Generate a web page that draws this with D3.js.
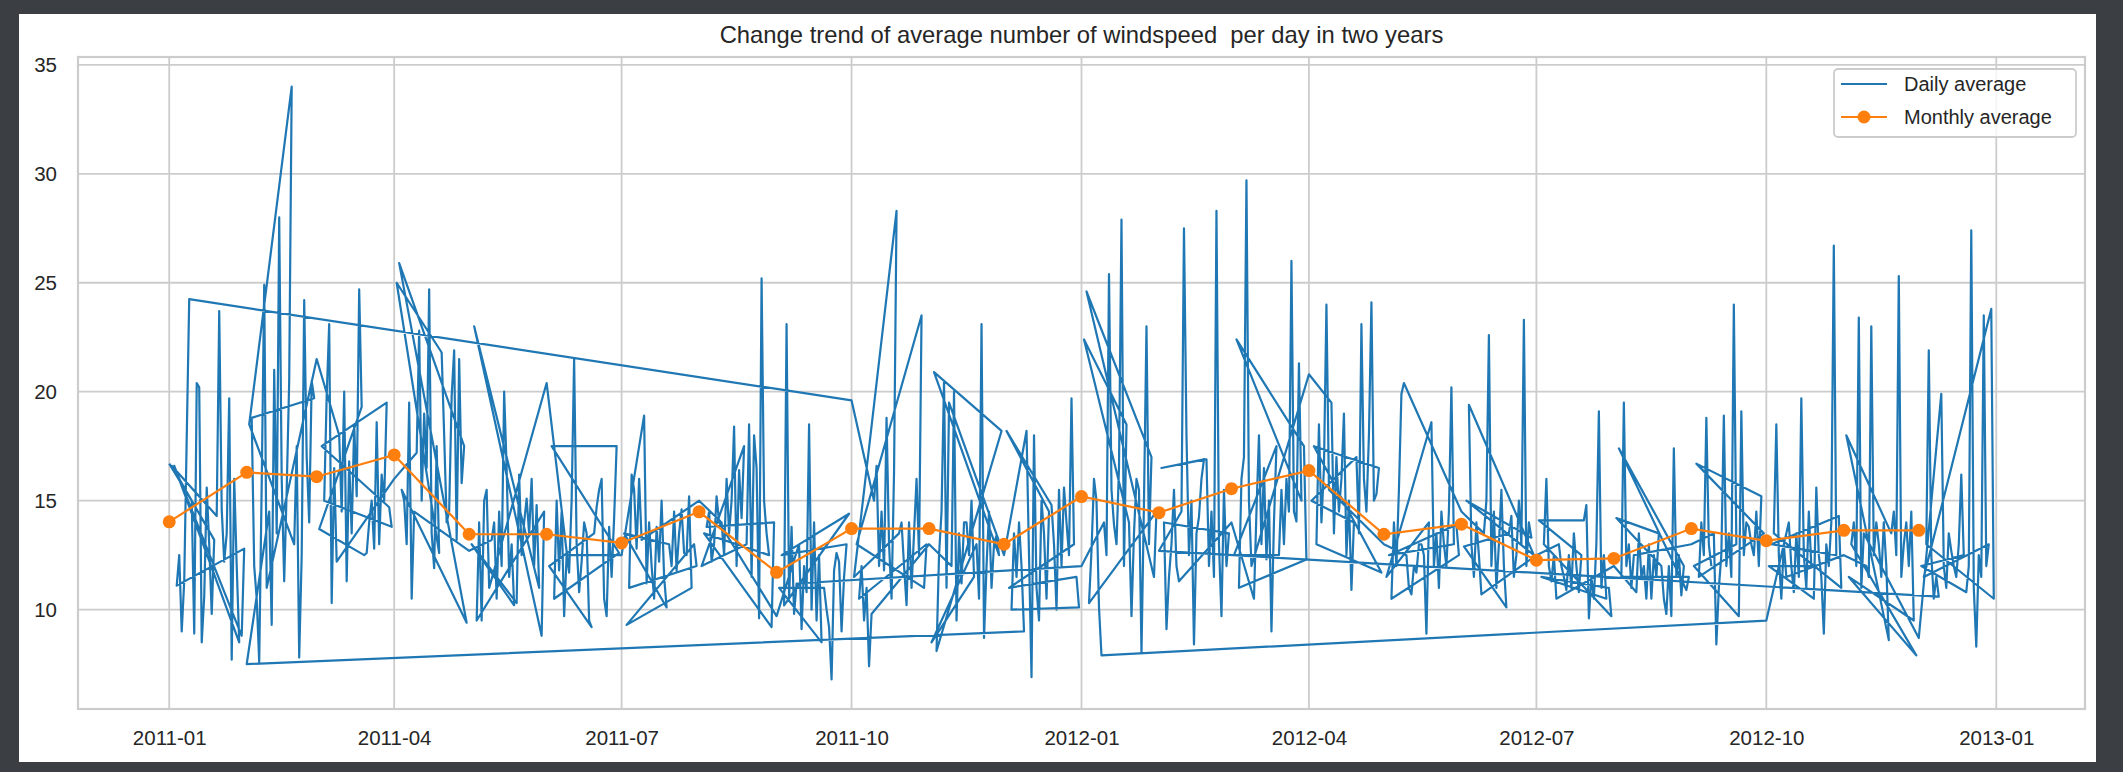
<!DOCTYPE html>
<html>
<head>
<meta charset="utf-8">
<script src="https://cdn.jsdelivr.net/npm/d3@7"></script>
<style>
body { margin: 0; background: #3b3e42; }
svg { display: block; }
text { font-family: "Liberation Sans", Arial, sans-serif; fill: #262626; }
</style>
</head>
<body>
<svg id="chart" width="2123" height="772"></svg>
<script>
// daily mean windspeed, one array per month (day 1..n)
const wind2011 = [
  [16.7,16.6,16.6,11.1,12.5,9.0,11.3,17.9,24.25,15.0,8.9,20.4,20.2,8.5,10.6,15.6,13.0,9.8,13.2,14.3,23.7,14.6,12.2,13.5,19.7,7.7,16.0,12.0,8.5,8.8,12.8],
  [7.5,18.5,18.8,12.0,10.5,7.6,15.8,24.9,11.0,14.5,9.3,21.0,13.5,28.0,16.0,11.3,15.5,20.5,34.0,13.0,17.5,7.8,12.5,24.2,17.0,14.0,20.5,19.7],
  [21.5,13.7,17.5,15.0,19.8,23.1,10.3,16.5,12.2,18.0,14.5,20.0,11.3,16.8,13.5,18.5,15.2,24.7,19.3,12.5,12.6,14.0,15.0,12.8,18.6,13.0,16.2,15.0,19.5,14.7,13.8],
  [16.0,25.0,25.9,15.5,15.0,13.0,19.5,10.5,14.5,17.2,22.8,15.0,19.0,16.5,24.7,13.5,11.9,17.5,12.6,21.8,18.0,14.0,14.5,19.8,21.9,13.2,21.5,15.8,17.5,9.4],
  [12.7,13.0,23.0,9.5,14.0,9.5,15.0,15.5,11.0,13.2,14.0,10.5,14.5,12.0,20.0,16.5,11.5,13.0,10.2,10.3,16.2,12.5,14.0,15.1,13.5,16.0,12.0,14.8,11.0,8.8,14.5],
  [20.4,12.0,17.5,10.5,15.0,11.8,14.5,9.7,12.5,11.7,15.0,21.5,13.0,10.8,12.2,14.0,13.5,9.5,9.2,13.5,14.7,15.5,16.0,10.5,9.7,13.8,11.5,14.2,17.5,12.6],
  [12.5,13.5,9.3,11.0,16.2,15.5,12.8,16.0,13.2,18.9,11.2,14.0,12.0,10.5,13.8,12.2,15.0,11.5,10.1,13.0,12.0,14.5,11.8,13.5,14.6,12.6,12.5,15.2,11.0,13.0,12.0],
  [15.0,12.0,13.5,13.8,14.5,12.2,13.0,15.2,14.0,14.0,12.5,16.0,13.5,15.0,18.4,12.0,16.4,14.2,17.5,13.0,18.5,11.5,18.0,16.5,9.6,25.2,15.0,13.5,12.5,9.2,14.0],
  [9.7,11.0,12.5,10.2,23.1,10.5,13.8,9.8,11.2,13.0,9.1,12.0,10.8,18.5,10.0,14.0,9.5,12.5,8.5,11.0,10.0,9.2,6.8,11.8,12.6,12.2,9.0,11.5,13.0,14.4],
  [19.6,11.5,13.0,10.5,12.0,9.5,11.0,7.4,9.8,15.0,16.6,12.0,14.5,11.8,18.8,13.0,10.5,16.3,28.3,13.5,14.0,12.0,10.2,14.0,11.0,13.5,16.0,12.5,23.5,11.0,13.0],
  [13.0,8.5,20.9,8.1,12.5,14.5,20.5,11.0,19.5,12.0,20.0,9.5,13.5,11.2,14.0,14.0,12.5,15.0,11.5,13.0,10.5,23.1,8.7,12.0,14.5,11.0,13.0,13.4,12.5,18.2],
  [12.5,18.2,11.0,10.0,13.5,11.5,14.0,12.0,9.0,18.2,12.5,6.9,18.0,11.0,9.5,15.0,13.5,10.5,14.5,14.8,13.0,10.0,15.5,12.0,15.6,14.0,12.5,19.7,13.0,11.5,10.1]
]

const wind2012 = [
  [12.0,22.4,24.6,10.3,12.7,16.0,15.0,10.1,7.9,14.0,12.5,25.4,15.5,13.9,13.0,16.5,27.9,12.0,18.5,14.0,9.7,13.5,16.0,15.5,8.0,15.0,23.0,13.0,17.0,11.5,14.5],
  [12.7,16.5,14.0,9.1,11.5,13.0,15.5,12.0,11.3,14.5,27.5,18.0,12.5,15.0,8.4,13.5,14.25,16.0,16.9,16.9,12.0,14.5,11.5,28.3,13.0,9.7,15.5,12.0,13.5],
  [14.0,12.5,22.4,11.0,16.0,17.0,29.7,15.0,12.0,10.5,14.5,18.0,13.0,16.5,12.3,15.0,9.0,14.0,17.5,12.5,15.5,13.0,16.0,14.5,26.0,14.5,14.05,21.3,15.0,17.5,12.3],
  [20.8,15.0,17.5,13.0,18.5,14.0,16.5,24.0,15.5,19.5,13.5,17.0,14.5,16.0,19.0,12.5,15.0,10.9,14.0,17.0,13.5,23.1,16.0,14.5,18.0,24.1,15.0,15.3,16.5,11.7],
  [13.0,11.5,12.5,10.5,14.0,12.0,15.5,19.9,20.4,12.5,11.0,10.7,12.0,11.7,13.0,13.0,12.5,8.9,14.0,18.6,12.0,13.5,11.0,14.5,13.0,12.0,14.5,20.2,13.0,13.9,12.5],
  [14.5,12.9,15.0,19.4,13.0,11.5,14.0,12.5,10.7,13.5,15.0,22.6,12.0,14.5,11.0,13.0,15.5,12.0,10.1,13.5,14.3,11.5,12.5,15.0,13.0,23.3,12.0,14.0,13.3,12.5],
  [12.5,14.1,11.5,13.0,16.0,12.0,11.3,12.5,10.5,13.0,12.0,11.5,10.9,12.5,11.0,13.5,12.0,10.8,12.5,14.1,14.8,9.6,11.5,10.5,13.0,19.1,11.0,12.5,10.5,11.0,9.7],
  [12.0,14.2,17.4,11.5,19.5,12.0,13.0,11.0,12.5,10.8,13.5,11.5,12.0,10.5,13.0,10.5,12.5,11.5,13.5,12.0,10.5,9.8,12.0,9.7,17.4,11.5,12.5,10.65,12.0,10.9,11.5],
  [13.0,12.0,16.7,11.5,14.0,12.5,18.8,13.0,12.0,13.5,8.4,11.0,12.5,18.9,12.0,13.5,11.5,24.0,13.0,9.7,19.1,12.5,14.0,13.8,13.0,12.5,14.5,12.0,15.2,13.5],
  [9.5,12.0,13.0,13.5,18.5,12.5,10.5,13.0,11.5,14.0,12.0,10.8,13.5,11.5,19.7,12.5,11.0,14.5,12.0,10.5,15.6,12.5,11.5,8.9,13.0,12.0,14.0,26.7,12.5,14.3,11.0],
  [12.5,18.0,11.5,13.0,14.0,12.0,23.4,11.0,13.5,12.0,11.5,23.0,12.5,14.0,13.0,11.5,14.0,12.0,8.6,13.5,14.5,12.5,25.3,11.5,13.0,14.0,12.0,14.5,9.5,7.9],
  [8.7,12.0,11.5,13.0,21.9,12.5,10.5,11.5,10.6,19.9,12.0,11.0,13.5,12.7,12.0,11.5,13.0,16.2,12.5,10.8,12.0,27.4,11.0,8.3,12.5,11.5,23.5,12.0,13.0,23.8,10.5]
]

const years = [2011, 2012]

const monthlyAvg = [14.03,16.30,16.10,17.10,13.46,13.46,13.06,14.49,11.71,13.72,13.72,13.00,
                    15.19,14.45,15.55,16.38,13.46,13.92,12.27,12.35,13.72,13.16,13.64,13.64]

const xTickLabels = ['2011-01','2011-04','2011-07','2011-10','2012-01','2012-04','2012-07','2012-10','2013-01']
const yTicks = [10, 15, 20, 25, 30, 35]

const titleText = 'Change trend of average number of windspeed  per day in two years'
const legendLabels = ['Daily average', 'Monthly average']

const plotL = 78, plotR = 2085, plotT = 57, plotB = 709
const blue = '#1f77b4', orange = '#ff7f0e', gridColor = '#cccccc'
const fontFam = '"Liberation Sans", Arial, sans-serif'

const svg = d3.select('#chart')

svg.append('rect')
    .attr('x', 19).attr('y', 14)
    .attr('width', 2077).attr('height', 748)
    .attr('fill', '#ffffff')

// days grouped by their "yyyy/m/d" string, so they come out in string order
const rows = []
years.forEach(function(yr, yi){
    const months = yi === 0 ? wind2011 : wind2012
    months.forEach(function(vals, mi){
        vals.forEach(function(v, di){
            rows.push({key: yr + '/' + (mi + 1) + '/' + (di + 1), date: new Date(yr, mi, di + 1), value: v})
        })
    })
})
rows.sort(function(a, b){ return d3.ascending(a.key, b.key) })

const monthly = monthlyAvg.map(function(v, i){
    return {date: new Date(years[0] + Math.floor(i / 12), i % 12, 1), value: v}
})

// matplotlib style 5% margins
const dExt = d3.extent(rows, d => d.date)
const dPad = (dExt[1] - dExt[0]) * 0.05
const x = d3.scaleTime([new Date(+dExt[0] - dPad), new Date(+dExt[1] + dPad)], [plotL, plotR])

const vExt = d3.extent(rows, d => d.value)
const vPad = (vExt[1] - vExt[0]) * 0.05
const y = d3.scaleLinear([vExt[0] - vPad, vExt[1] + vPad], [plotB, plotT])

const xTicks = xTickLabels.map(d3.timeParse('%Y-%m'))

// grid
svg.append('g').selectAll('line')
    .data(xTicks)
    .join('line')
    .attr('x1', d => x(d)).attr('x2', d => x(d))
    .attr('y1', plotT).attr('y2', plotB)
    .attr('stroke', gridColor).attr('stroke-width', 1.8)

svg.append('g').selectAll('line')
    .data(yTicks)
    .join('line')
    .attr('x1', plotL).attr('x2', plotR)
    .attr('y1', d => y(d)).attr('y2', d => y(d))
    .attr('stroke', gridColor).attr('stroke-width', 1.8)

// spines
svg.append('rect')
    .attr('x', plotL).attr('y', plotT)
    .attr('width', plotR - plotL).attr('height', plotB - plotT)
    .attr('fill', 'none')
    .attr('stroke', gridColor).attr('stroke-width', 2.2)

// axes
const xAxis = d3.axisBottom(x)
    .tickValues(xTicks)
    .tickFormat(d3.timeFormat('%Y-%m'))
    .tickSize(0)
    .tickPadding(21)
const gx = svg.append('g')
    .attr('transform', 'translate(0,' + plotB + ')')
    .call(xAxis)
gx.select('.domain').remove()
gx.selectAll('text').attr('font-size', '20.5px').attr('fill', '#262626')
    .attr('font-family', fontFam)

const yAxis = d3.axisLeft(y)
    .tickValues(yTicks)
    .tickSize(0)
    .tickPadding(21)
const gy = svg.append('g')
    .attr('transform', 'translate(' + plotL + ',0)')
    .call(yAxis)
gy.select('.domain').remove()
gy.selectAll('text').attr('font-size', '20.5px').attr('fill', '#262626')
    .attr('font-family', fontFam)

// daily line
const line = d3.line()
    .x(d => x(d.date))
    .y(d => y(d.value))

svg.append('path')
    .datum(rows)
    .attr('d', line)
    .attr('fill', 'none')
    .attr('stroke', blue)
    .attr('stroke-width', 2.2)
    .attr('stroke-linejoin', 'round')

// monthly line
svg.append('path')
    .datum(monthly)
    .attr('d', line)
    .attr('fill', 'none')
    .attr('stroke', orange)
    .attr('stroke-width', 2.2)

svg.append('g').selectAll('circle')
    .data(monthly)
    .join('circle')
    .attr('cx', d => x(d.date))
    .attr('cy', d => y(d.value))
    .attr('r', 6.5)
    .attr('fill', orange)

// title
svg.append('text')
    .text(titleText)
    .attr('x', (plotL + plotR) / 2)
    .attr('y', 43)
    .attr('text-anchor', 'middle')
    .attr('font-size', '23.8px')
    .style('white-space', 'pre')

// legend
const legend = svg.append('g')
legend.append('rect')
    .attr('x', 1834).attr('y', 69)
    .attr('width', 242).attr('height', 68)
    .attr('rx', 4)
    .attr('fill', '#ffffff').attr('fill-opacity', 0.8)
    .attr('stroke', gridColor).attr('stroke-width', 1.8)

legendLabels.forEach(function(label, i){
    const ly = 84 + i * 33
    const col = i === 0 ? blue : orange
    legend.append('line')
        .attr('x1', 1841).attr('x2', 1887)
        .attr('y1', ly).attr('y2', ly)
        .attr('stroke', col).attr('stroke-width', 2.2)
    if (i === 1) {
        legend.append('circle')
            .attr('cx', 1864).attr('cy', ly).attr('r', 6.5)
            .attr('fill', col)
    }
    legend.append('text')
        .text(label)
        .attr('x', 1904)
        .attr('y', ly + 7)
        .attr('font-size', '20px')
})
</script>
</body>
</html>
